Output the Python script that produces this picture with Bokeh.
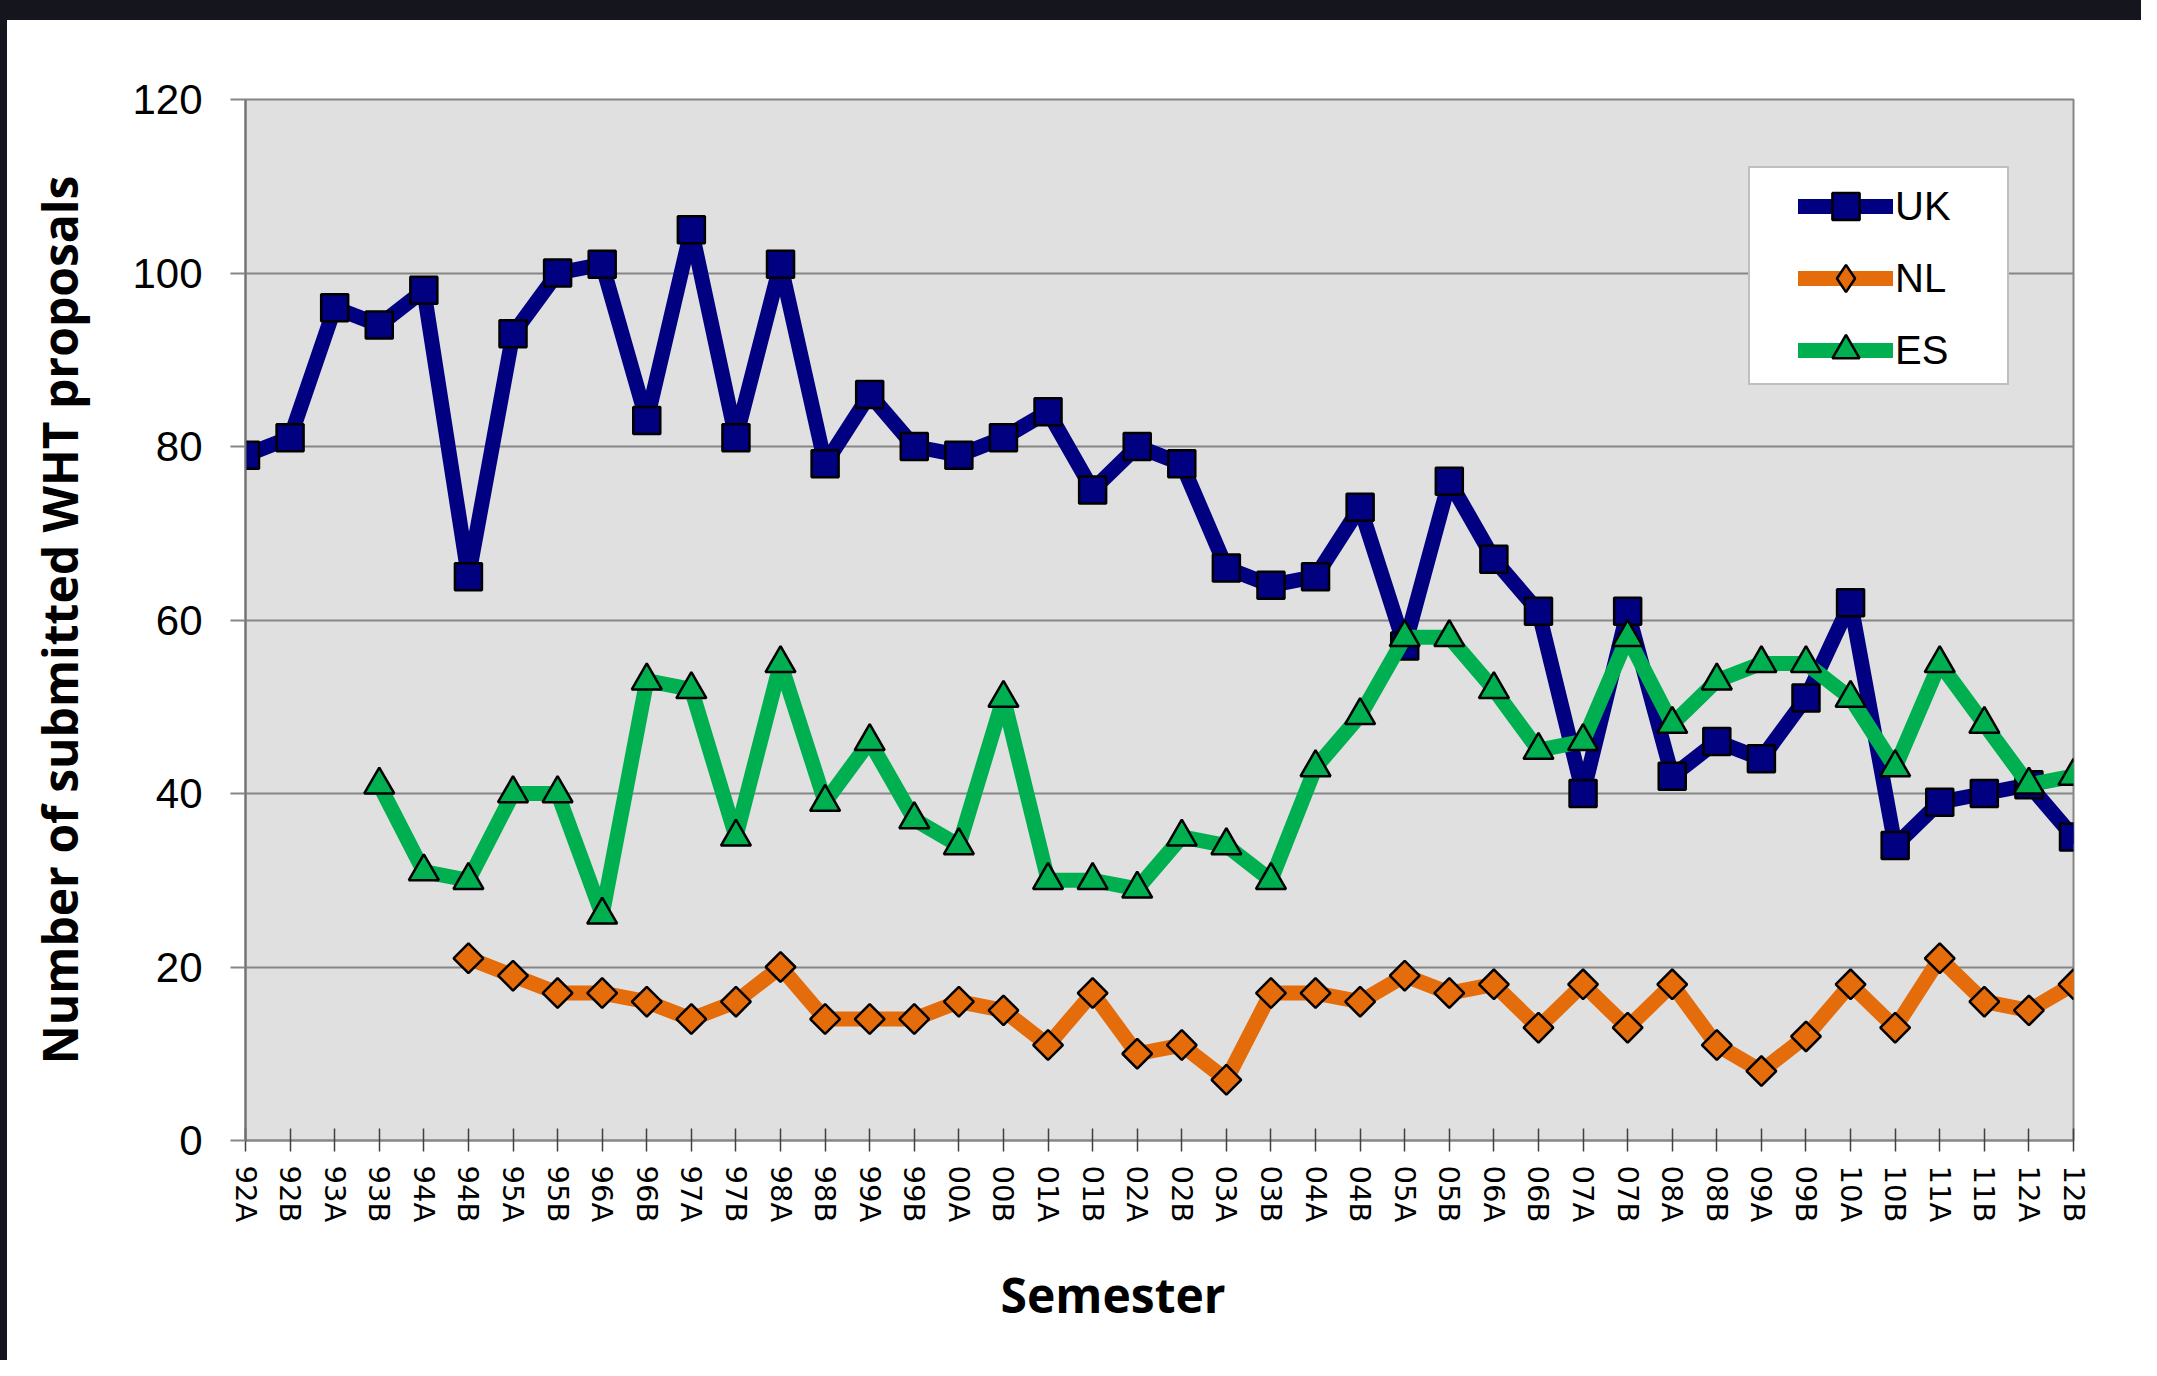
from math import pi
from bokeh.plotting import figure
from bokeh.layouts import row, column
from bokeh.models import Range1d, FixedTicker, Legend, LegendItem, Title, Div
from bokeh.embed import file_html
from bokeh.resources import INLINE

semesters = ["92A", "92B", "93A", "93B", "94A", "94B", "95A", "95B", "96A", "96B",
             "97A", "97B", "98A", "98B", "99A", "99B", "00A", "00B", "01A", "01B",
             "02A", "02B", "03A", "03B", "04A", "04B", "05A", "05B", "06A", "06B",
             "07A", "07B", "08A", "08B", "09A", "09B", "10A", "10B", "11A", "11B",
             "12A", "12B"]

uk = [79, 81, 96, 94, 98, 65, 93, 100, 101, 83,
      105, 81, 101, 78, 86, 80, 79, 81, 84, 75,
      80, 78, 66, 64, 65, 73, 57, 76, 67, 61,
      40, 61, 42, 46, 44, 51, 62, 34, 39, 40,
      41, 35]

nl = [None, None, None, None, None, 21, 19, 17, 17, 16,
      14, 16, 20, 14, 14, 14, 16, 15, 11, 17,
      10, 11, 7, 17, 17, 16, 19, 17, 18, 13,
      18, 13, 18, 11, 8, 12, 18, 13, 21, 16,
      15, 18]

es = [None, None, None, 41, 31, 30, 40, 40, 26, 53,
      52, 35, 55, 39, 46, 37, 34, 51, 30, 30,
      29, 35, 34, 30, 43, 49, 58, 58, 52, 45,
      46, 58, 48, 53, 55, 55, 51, 43, 55, 48,
      41, 42]

y_ticks = [0, 20, 40, 60, 80, 100, 120]

# name, values, colour, plot marker, marker size, marker angle, legend marker
series = [
    ("UK", uk, "#000080", "square", 27, 0.0, "square"),
    ("NL", nl, "#E46C0A", "square", 21, pi / 4, "diamond"),
    ("ES", es, "#00B050", "triangle", 30, 0.0, "triangle"),
]

GRID = "#868686"
EDGE = "#15151d"

p = figure(width=2134, height=1340, output_backend="svg", toolbar_location=None,
           x_range=Range1d(0, len(semesters) - 1), y_range=Range1d(y_ticks[0], y_ticks[-1]),
           min_border_left=238, min_border_right=68, min_border_top=79, min_border_bottom=218,
           margin=0)

p.background_fill_color = "#E0E0E0"
p.border_fill_color = "white"
p.outline_line_color = GRID
p.outline_line_width = 2

p.xgrid.visible = False
p.ygrid.grid_line_color = GRID
p.ygrid.grid_line_width = 2

# x axis
p.xaxis.ticker = FixedTicker(ticks=list(range(len(semesters))))
p.xaxis.major_label_overrides = {i: s for i, s in enumerate(semesters)}
p.xaxis.major_label_orientation = "vertical"
p.xaxis.major_label_text_font = "DejaVu Sans"
p.xaxis.major_label_text_font_size = "29px"
p.xaxis.major_label_text_color = "black"
p.xaxis.major_label_standoff = 14
p.xaxis.major_tick_in = 12
p.xaxis.major_tick_out = 11
p.xaxis.major_tick_line_color = "#404040"
p.xaxis.major_tick_line_width = 1.5
p.xaxis.minor_tick_line_color = None
p.xaxis.axis_line_color = GRID
p.xaxis.axis_line_width = 2

# y axis
p.yaxis.ticker = FixedTicker(ticks=y_ticks)
p.yaxis.major_label_text_font = "Liberation Sans"
p.yaxis.major_label_text_font_size = "42px"
p.yaxis.major_label_text_color = "black"
p.yaxis.major_label_standoff = 28
p.yaxis.major_tick_in = 0
p.yaxis.major_tick_out = 15
p.yaxis.major_tick_line_color = GRID
p.yaxis.major_tick_line_width = 2
p.yaxis.minor_tick_line_color = None
p.yaxis.axis_line_color = "#707070"
p.yaxis.axis_line_width = 2
p.yaxis.axis_label = "Number of submitted WHT proposals"
p.yaxis.axis_label_text_font = "Open Sans"
p.yaxis.axis_label_text_font_style = "bold"
p.yaxis.axis_label_text_font_size = "48px"
p.yaxis.axis_label_text_color = "black"
p.yaxis.axis_label_standoff = 37

# x axis title (placed left of centre, as in the original)
xtitle = Title(text="Semester", align="left", offset=755, standoff=68,
               text_font="Open Sans", text_font_style="bold", text_font_size="48px",
               text_color="black")
p.add_layout(xtitle, "below")

items = []
for name, vals, color, mk, size, ang, lmk in series:
    xs = [i for i, v in enumerate(vals) if v is not None]
    ys = [v for v in vals if v is not None]
    lr = p.line(xs, ys, line_color=color, line_width=15, line_join="round", line_cap="round")
    sr = p.scatter(xs, ys, marker=mk, size=size, angle=ang,
                   fill_color=color, line_color="black", line_width=2.5)
    if lmk == mk:
        items.append(LegendItem(label=name, renderers=[lr, sr]))
    else:
        lm = p.scatter(x=[float("nan")], y=[float("nan")], marker=lmk,
                       fill_color=color, line_color="black", line_width=2.5)
        items.append(LegendItem(label=name, renderers=[lr, lm]))

# legend frame (box) drawn as separate legend with an invisible glyph
dummy = p.scatter(x=[float("nan")], y=[float("nan")], marker="square", fill_alpha=0, line_alpha=0)
box = Legend(items=[LegendItem(label=" ", renderers=[dummy])], location=(1503, 755),
             padding=0, margin=0, glyph_width=257, glyph_height=215, label_width=0,
             label_standoff=0, label_text_font_size="1px",
             border_line_color="#808080", border_line_width=2.5,
             background_fill_color="white", background_fill_alpha=1.0)
p.add_layout(box)

leg = Legend(items=items, location=(1553, 756), padding=0, margin=0,
             glyph_width=95, glyph_height=68, spacing=4, label_standoff=2,
             label_text_font="Liberation Sans", label_text_font_size="40px",
             label_text_color="black", label_text_baseline="middle",
             border_line_color=None, background_fill_alpha=0.0)
p.add_layout(leg)

# dark edges of the photographed slide
left_edge = Div(text="", width=7, height=1360, margin=0, styles={"background-color": EDGE})
top_edge = Div(text="", width=2134, height=20, margin=0, styles={"background-color": EDGE})
page = row(left_edge, column(top_edge, p, spacing=0, margin=0), spacing=0, margin=0)

open("out.html", "w").write(file_html(page, INLINE))
